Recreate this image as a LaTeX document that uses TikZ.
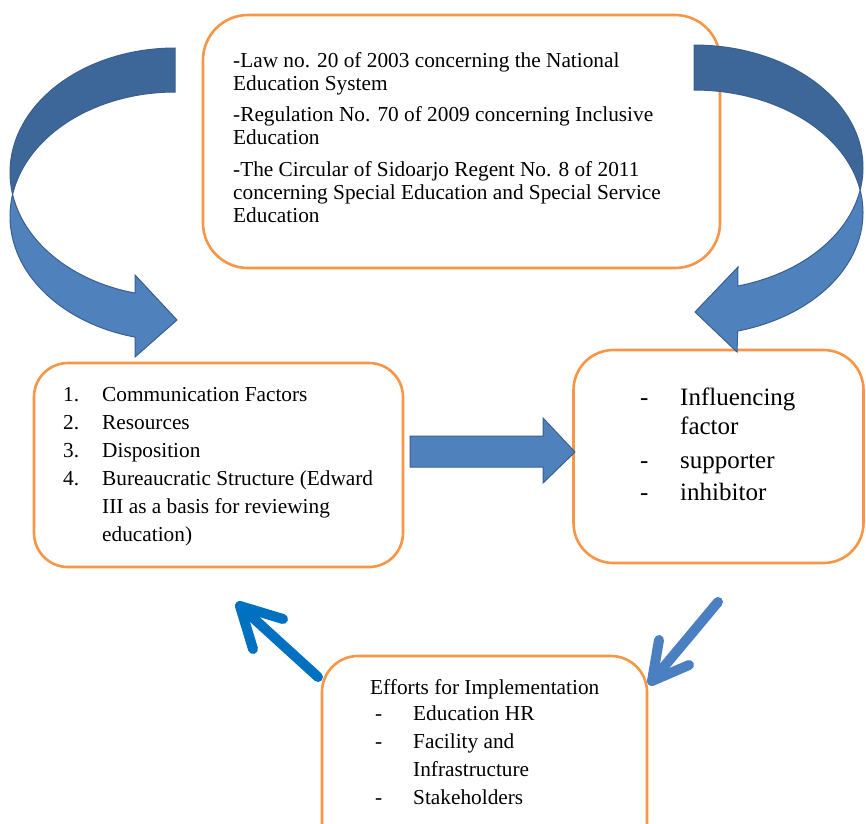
\documentclass[tikz,border=0pt]{standalone}
\usepackage{fontspec}
\setmainfont{Liberation Serif}
\definecolor{orangeline}{HTML}{F79646}
\definecolor{darkblue}{HTML}{3D6699}
\definecolor{lightblue}{HTML}{4F81BD}
\definecolor{outlineblue}{HTML}{3A5F8F}
\definecolor{strongblue}{HTML}{0070C0}
\definecolor{softblue}{HTML}{4A7FC1}
\tikzset{
  box/.style={draw=orangeline, line width=2.6pt, fill=white, rounded corners=#1, inner sep=0pt},
  txt/.style={anchor=base west, inner sep=0pt, font=\fontsize{21.3}{23}\selectfont},
  bigtxt/.style={anchor=base west, inner sep=0pt, font=\fontsize{25}{27}\selectfont},
  blockarrow/.style={line width=1pt, draw=outlineblue, line join=miter},
  linearrow/.style={line width=10pt, line cap=round, line join=round},
}
\begin{document}
\begin{tikzpicture}[x=1pt,y=-1pt]
\useasboundingbox (0,0) rectangle (866,823);
\clip (0,0) rectangle (866,823);
\fill[white] (0,0) rectangle (866,823);

% boxes
\node[box=45pt, minimum width=517pt, minimum height=253pt] (topbox) at (461.5,141.5) {};
\node[box=34pt, minimum width=369pt, minimum height=204pt] (leftbox) at (218.5,465) {};
\node[box=40pt, minimum width=290pt, minimum height=213pt] (rightbox) at (718.5,456.5) {};
\node[box=36pt, minimum width=325pt, minimum height=220pt] (bottombox) at (484.5,766) {};

% top box text
\node[txt] (t1) at (233,67) {-Law no. 20 of 2003 concerning the National};
\node[txt] (t2) at (233,90) {Education System};
\node[txt] (t3) at (233,121) {-Regulation No. 70 of 2009 concerning Inclusive};
\node[txt] (t4) at (233,144) {Education};
\node[txt] (t5) at (233,176) {-The Circular of Sidoarjo Regent No. 8 of 2011};
\node[txt] (t6) at (233,199) {concerning Special Education and Special Service};
\node[txt] (t7) at (233,222) {Education};

% left box text
\node[txt] (n1) at (63,401) {1.};
\node[txt] (l1) at (102,401) {Communication Factors};
\node[txt] (n2) at (63,429) {2.};
\node[txt] (l2) at (102,429) {Resources};
\node[txt] (n3) at (63,457) {3.};
\node[txt] (l3) at (102,457) {Disposition};
\node[txt] (n4) at (63,485) {4.};
\node[txt] (l4) at (102,485) {Bureaucratic Structure (Edward};
\node[txt] (l5) at (102,513) {III as a basis for reviewing};
\node[txt] (l6) at (102,541) {education)};

% right box text
\node[bigtxt] (d1) at (640,405) {-};
\node[bigtxt] (r1) at (680,405) {Influencing};
\node[bigtxt] (r2) at (680,434) {factor};
\node[bigtxt] (d2) at (640,468) {-};
\node[bigtxt] (r3) at (680,468) {supporter};
\node[bigtxt] (d3) at (640,500) {-};
\node[bigtxt] (r4) at (680,500) {inhibitor};

% bottom box text
\node[txt] (b0) at (370,694) {Efforts for Implementation};
\node[txt] (bd1) at (375,720) {-};
\node[txt] (b1) at (413,720) {Education HR};
\node[txt] (bd2) at (375,748) {-};
\node[txt] (b2) at (413,748) {Facility and};
\node[txt] (b3) at (413,776) {Infrastructure};
\node[txt] (bd3) at (375,804) {-};
\node[txt] (b4) at (413,804) {Stakeholders};

% left curved arrow (two equal ellipses shifted by the shaft thickness)
\filldraw[blockarrow, fill=darkblue]
  plot[domain=270:169.82, samples=50] ({175+165*cos(\x)},{172.4+124.4*sin(\x)})
  -- plot[domain=190.18:270, samples=50] ({175+165*cos(\x)},{216.4+124.4*sin(\x)}) -- cycle;
\filldraw[blockarrow, fill=lightblue]
  plot[domain=190.18:104.03, samples=50] ({175+165*cos(\x)},{216.4+124.4*sin(\x)})
  -- (135,357) -- (177,320) -- (135,275)
  -- plot[domain=104.03:169.82, samples=50] ({175+165*cos(\x)},{172.4+124.4*sin(\x)}) -- cycle;

% right curved arrow
\filldraw[blockarrow, fill=darkblue]
  plot[domain=270:370.57, samples=50] ({694+169*cos(\x)},{167.6+122.6*sin(\x)})
  -- plot[domain=349.43:270, samples=50] ({694+169*cos(\x)},{212.6+122.6*sin(\x)}) -- cycle;
\filldraw[blockarrow, fill=lightblue]
  plot[domain=349.43:435, samples=50] ({694+169*cos(\x)},{212.6+122.6*sin(\x)})
  -- (737,352) -- (695,312) -- (738,267)
  -- plot[domain=435:370.57, samples=50] ({694+169*cos(\x)},{167.6+122.6*sin(\x)}) -- cycle;

% straight block arrow
\filldraw[blockarrow, fill=lightblue]
  (410,436) -- (543,436) -- (543,418) -- (575,452) -- (543,483) -- (543,467) -- (410,467) -- cycle;

% bottom line arrows
\coordinate (ltail) at (318,677);
\coordinate (ltip) at (240,606);
\coordinate (lw1) at (283,619);
\coordinate (lw2) at (253,649);
\draw[linearrow, strongblue] (ltail) -- (ltip);
\draw[linearrow, strongblue] (lw1) -- (ltip) -- (lw2);
\coordinate (rtail) at (718,602);
\coordinate (rtip) at (652,681);
\coordinate (rw1) at (659,640);
\coordinate (rw2) at (689,665);
\draw[linearrow, softblue] (rtail) -- (rtip);
\draw[linearrow, softblue] (rw1) -- (rtip) -- (rw2);
\end{tikzpicture}
\end{document}
